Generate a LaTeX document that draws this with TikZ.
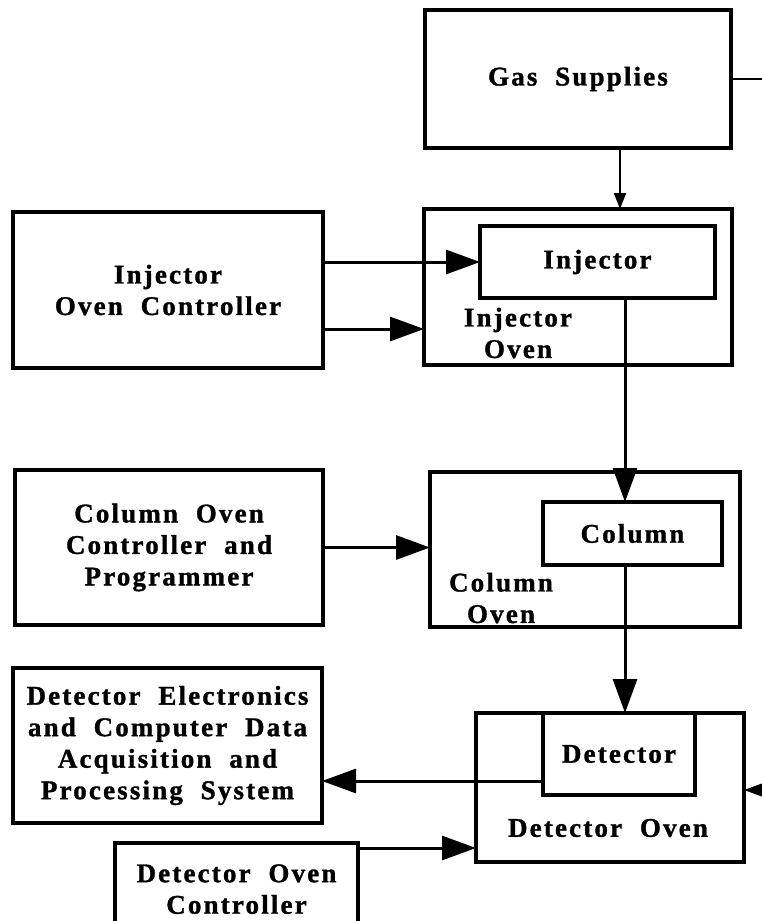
\documentclass[tikz,border=0pt]{standalone}
\usepackage{fontspec}
\setmainfont{Liberation Serif}[LetterSpace=8,WordSpace=2,BoldFeatures={FakeBold=1.2}]
\usetikzlibrary{arrows.meta}

\begin{document}
\begin{tikzpicture}[x=1pt, y=-1pt, >={Triangle[length=34pt,width=24pt]},
    box/.style={draw, line width=3.5pt, inner sep=0pt, outer sep=0pt, anchor=north west, align=center, font=\fontsize{27}{31.5}\selectfont\bfseries},
    boxlabel/.style={align=center, inner sep=0pt, font=\fontsize{27}{31.5}\selectfont\bfseries},
    flow/.style={->, line width=3pt},
    feed/.style={-{Triangle[length=16pt,width=12pt]}, line width=2pt}]
\useasboundingbox (0,0) rectangle (762,921);
\clip (0,0) rectangle (762,921);

% right-hand column
\node[box, minimum width=306pt, minimum height=138pt] (gas) at (425,10) {Gas Supplies};
\node[box, minimum width=308pt, minimum height=156pt] (injoven) at (424,209) {};
\node[box, minimum width=235pt, minimum height=72pt] (injector) at (480,226) {Injector};
\node[boxlabel] (injovenlbl) at (518,333) {Injector\\Oven};
\node[box, minimum width=310pt, minimum height=155pt] (coloven) at (430,472) {};
\node[box, minimum width=179pt, minimum height=63pt] (column) at (543,502) {Column};
\node[boxlabel] (colovenlbl) at (501,598) {Column\\Oven};
\node[box, minimum width=268pt, minimum height=149pt] (detoven) at (476,713) {};
\node[box, minimum width=152pt, minimum height=82pt] (detector) at (543,713) {Detector};
\node[boxlabel] (detovenlbl) at (608,828) {Detector Oven};

% left-hand column
\node[box, minimum width=310pt, minimum height=156pt] (injctl) at (13,212) {Injector\\Oven Controller};
\node[box, minimum width=308pt, minimum height=155pt] (colctl) at (15,470) {Column Oven\\Controller and\\Programmer};
\node[box, minimum width=309pt, minimum height=155pt] (daqsys) at (13,668) {Detector Electronics\\and Computer Data\\Acquisition and\\Processing System};
\node[box, minimum width=243pt, minimum height=100pt, text depth=8pt] (detovctl) at (115,843) {Detector Oven\\Controller};

% connectors
\coordinate (gasout) at (780,79);
\coordinate (gasdrop) at (620,148);
\coordinate (mainline) at (625,0);
\coordinate (injlow) at (0,329);
\coordinate (detline) at (0,781);
\coordinate (rightin) at (790,790);
\coordinate (ctlline) at (0,848);

\draw[line width=2pt] (gas.east) -- (gasout);
\draw[feed] (gasdrop) -- (gasdrop |- injoven.north);
\draw[flow] (injctl.east |- injector.west) -- (injector.west);
\draw[flow] (injctl.east |- injlow) -- (injoven.west |- injlow);
\draw[flow] (injector.south -| mainline) -- (column.north -| mainline);
\draw[flow] (colctl.east) -- (colctl.east -| coloven.west);
\draw[flow] (column.south -| mainline) -- (detector.north -| mainline);
\draw[flow] (detector.west |- detline) -- (daqsys.east |- detline);
\draw[flow] (rightin) -- (rightin -| detoven.east);
\draw[flow] (detovctl.east |- ctlline) -- (detoven.west |- ctlline);
\end{tikzpicture}
\end{document}
